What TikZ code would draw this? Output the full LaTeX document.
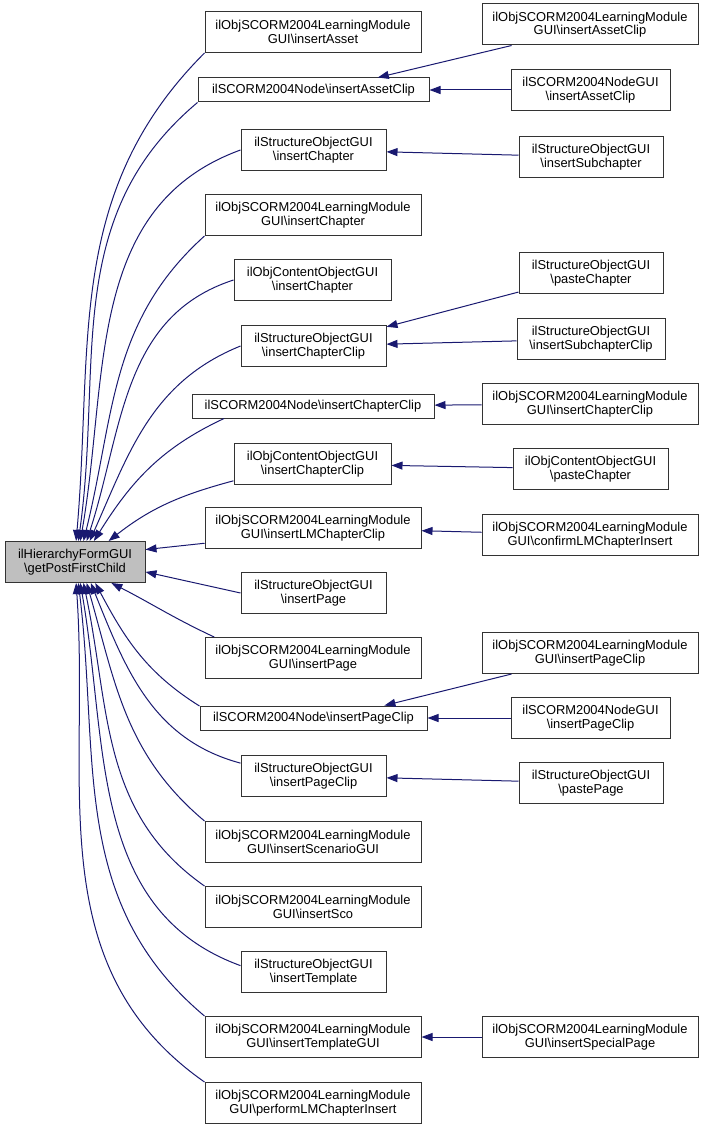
\documentclass[tikz,border=0pt]{standalone}
\usepackage{fontspec}
\setmainfont{Liberation Sans}
\usetikzlibrary{arrows.meta}
\definecolor{edgeblue}{RGB}{25,25,112}
\newcommand{\bsl}{\textbackslash}
\tikzset{
  fn/.style={rectangle, draw=black!80, line width=1pt, fill=white, align=center,
             inner sep=0pt, minimum height=41pt, font=\fontsize{12.9}{13.6}\selectfont},
  fnline/.style={fn, minimum height=24pt},
  cur/.style={fn, fill=black!25},
  ar/.style={-{Triangle[length=11pt,width=8pt]}, draw=edgeblue, line width=1pt},
}

\begin{document}
\begin{tikzpicture}[x=1pt,y=1pt]
\useasboundingbox (0,0) rectangle (705,-1129);
\node[cur, minimum width=140pt] (postFirst) at (75,-562) {ilHierarchyFormGUI\\\bsl getPostFirstChild};

\node[fn, minimum width=216pt] (lmAsset) at (313,-32) {ilObjSCORM2004LearningModule\\GUI\bsl insertAsset};
\node[fnline, minimum width=231pt] (ndAssetClip) at (313.5,-90) {ilSCORM2004Node\bsl insertAssetClip};
\node[fn, minimum width=145pt] (soChapter) at (313.5,-150) {ilStructureObjectGUI\\\bsl insertChapter};
\node[fn, minimum width=216pt] (lmChapter) at (313,-215) {ilObjSCORM2004LearningModule\\GUI\bsl insertChapter};
\node[fn, minimum width=157pt] (coChapter) at (312.5,-280) {ilObjContentObjectGUI\\\bsl insertChapter};
\node[fn, minimum width=145pt] (soChapterClip) at (313.5,-346) {ilStructureObjectGUI\\\bsl insertChapterClip};
\node[fnline, minimum width=242pt] (ndChapterClip) at (313,-406) {ilSCORM2004Node\bsl insertChapterClip};
\node[fn, minimum width=157pt] (coChapterClip) at (312.5,-464) {ilObjContentObjectGUI\\\bsl insertChapterClip};
\node[fn, minimum width=216pt] (lmLMChapterClip) at (313,-528) {ilObjSCORM2004LearningModule\\GUI\bsl insertLMChapterClip};
\node[fn, minimum width=145pt] (soPage) at (313.5,-593) {ilStructureObjectGUI\\\bsl insertPage};
\node[fn, minimum width=216pt] (lmPage) at (313,-658) {ilObjSCORM2004LearningModule\\GUI\bsl insertPage};
\node[fnline, minimum width=227pt] (ndPageClip) at (313.5,-718) {ilSCORM2004Node\bsl insertPageClip};
\node[fn, minimum width=145pt] (soPageClip) at (313.5,-776) {ilStructureObjectGUI\\\bsl insertPageClip};
\node[fn, minimum width=216pt] (lmScenario) at (313,-842) {ilObjSCORM2004LearningModule\\GUI\bsl insertScenarioGUI};
\node[fn, minimum width=216pt] (lmSco) at (313,-907) {ilObjSCORM2004LearningModule\\GUI\bsl insertSco};
\node[fn, minimum width=145pt] (soTemplate) at (313.5,-972) {ilStructureObjectGUI\\\bsl insertTemplate};
\node[fn, minimum width=216pt] (lmTemplate) at (313,-1037) {ilObjSCORM2004LearningModule\\GUI\bsl insertTemplateGUI};
\node[fn, minimum width=216pt] (lmPerform) at (313,-1103) {ilObjSCORM2004LearningModule\\GUI\bsl performLMChapterInsert};

\node[fn, minimum width=216pt] (lmAssetClip) at (590,-24.5) {ilObjSCORM2004LearningModule\\GUI\bsl insertAssetClip};
\node[fn, minimum width=159pt] (ndgAssetClip) at (590.5,-90) {ilSCORM2004NodeGUI\\\bsl insertAssetClip};
\node[fn, minimum width=144pt] (soSubchapter) at (591,-157) {ilStructureObjectGUI\\\bsl insertSubchapter};
\node[fn, minimum width=144pt] (soPasteChapter) at (591,-273) {ilStructureObjectGUI\\\bsl pasteChapter};
\node[fn, minimum width=148pt] (soSubchapterClip) at (591,-339) {ilStructureObjectGUI\\\bsl insertSubchapterClip};
\node[fn, minimum width=216pt] (lmChapterClip) at (590,-404) {ilObjSCORM2004LearningModule\\GUI\bsl insertChapterClip};
\node[fn, minimum width=155pt] (coPasteChapter) at (590.5,-469) {ilObjContentObjectGUI\\\bsl pasteChapter};
\node[fn, minimum width=216pt] (lmConfirm) at (590,-535) {ilObjSCORM2004LearningModule\\GUI\bsl confirmLMChapterInsert};
\node[fn, minimum width=216pt] (lmPageClip) at (590,-653) {ilObjSCORM2004LearningModule\\GUI\bsl insertPageClip};
\node[fn, minimum width=159pt] (ndgPageClip) at (590.5,-718) {ilSCORM2004NodeGUI\\\bsl insertPageClip};
\node[fn, minimum width=144pt] (soPastePage) at (591,-783) {ilStructureObjectGUI\\\bsl pastePage};
\node[fn, minimum width=216pt] (lmSpecialPage) at (590,-1037) {ilObjSCORM2004LearningModule\\GUI\bsl insertSpecialPage};

\foreach \s/\a/\o/\i/\t in {lmAsset/south west/225/85/87, ndAssetClip/south west/220/82/81.5,
  soChapter/west/200/80/76, lmChapter/south west/222/76/68, coChapter/west/198/72/61,
  soChapterClip/west/202/66/55, ndChapterClip/188/205/58/48, coChapterClip/192/195/38/32,
  lmPage/168/155/-27/330, ndPageClip/174/148/-62/314, soPageClip/170/165/-68/307,
  lmScenario/north west/140/-74/299, lmSco/north west/145/-78/292, soTemplate/175/160/-80/284,
  lmTemplate/north west/140/-83/279, lmPerform/north west/145/-86/273}
  \draw[ar] (\s.\a) to[out=\o,in=\i] (postFirst.\t);
\draw[ar] (lmLMChapterClip.188) -- (postFirst.10);
\draw[ar] (soPage.west) -- (postFirst.352);

\draw[ar] (lmAssetClip.195) -- (ndAssetClip.11);
\draw[ar] (lmPageClip.195) -- (ndPageClip.10);
\foreach \a/\b in {ndgAssetClip/ndAssetClip, soSubchapter/soChapter, soPasteChapter/soChapterClip,
  soSubchapterClip/soChapterClip, lmChapterClip/ndChapterClip, coPasteChapter/coChapterClip,
  lmConfirm/lmLMChapterClip, ndgPageClip/ndPageClip, soPastePage/soPageClip, lmSpecialPage/lmTemplate}
  \draw[ar] (\a) -- (\b);
\end{tikzpicture}
\end{document}
